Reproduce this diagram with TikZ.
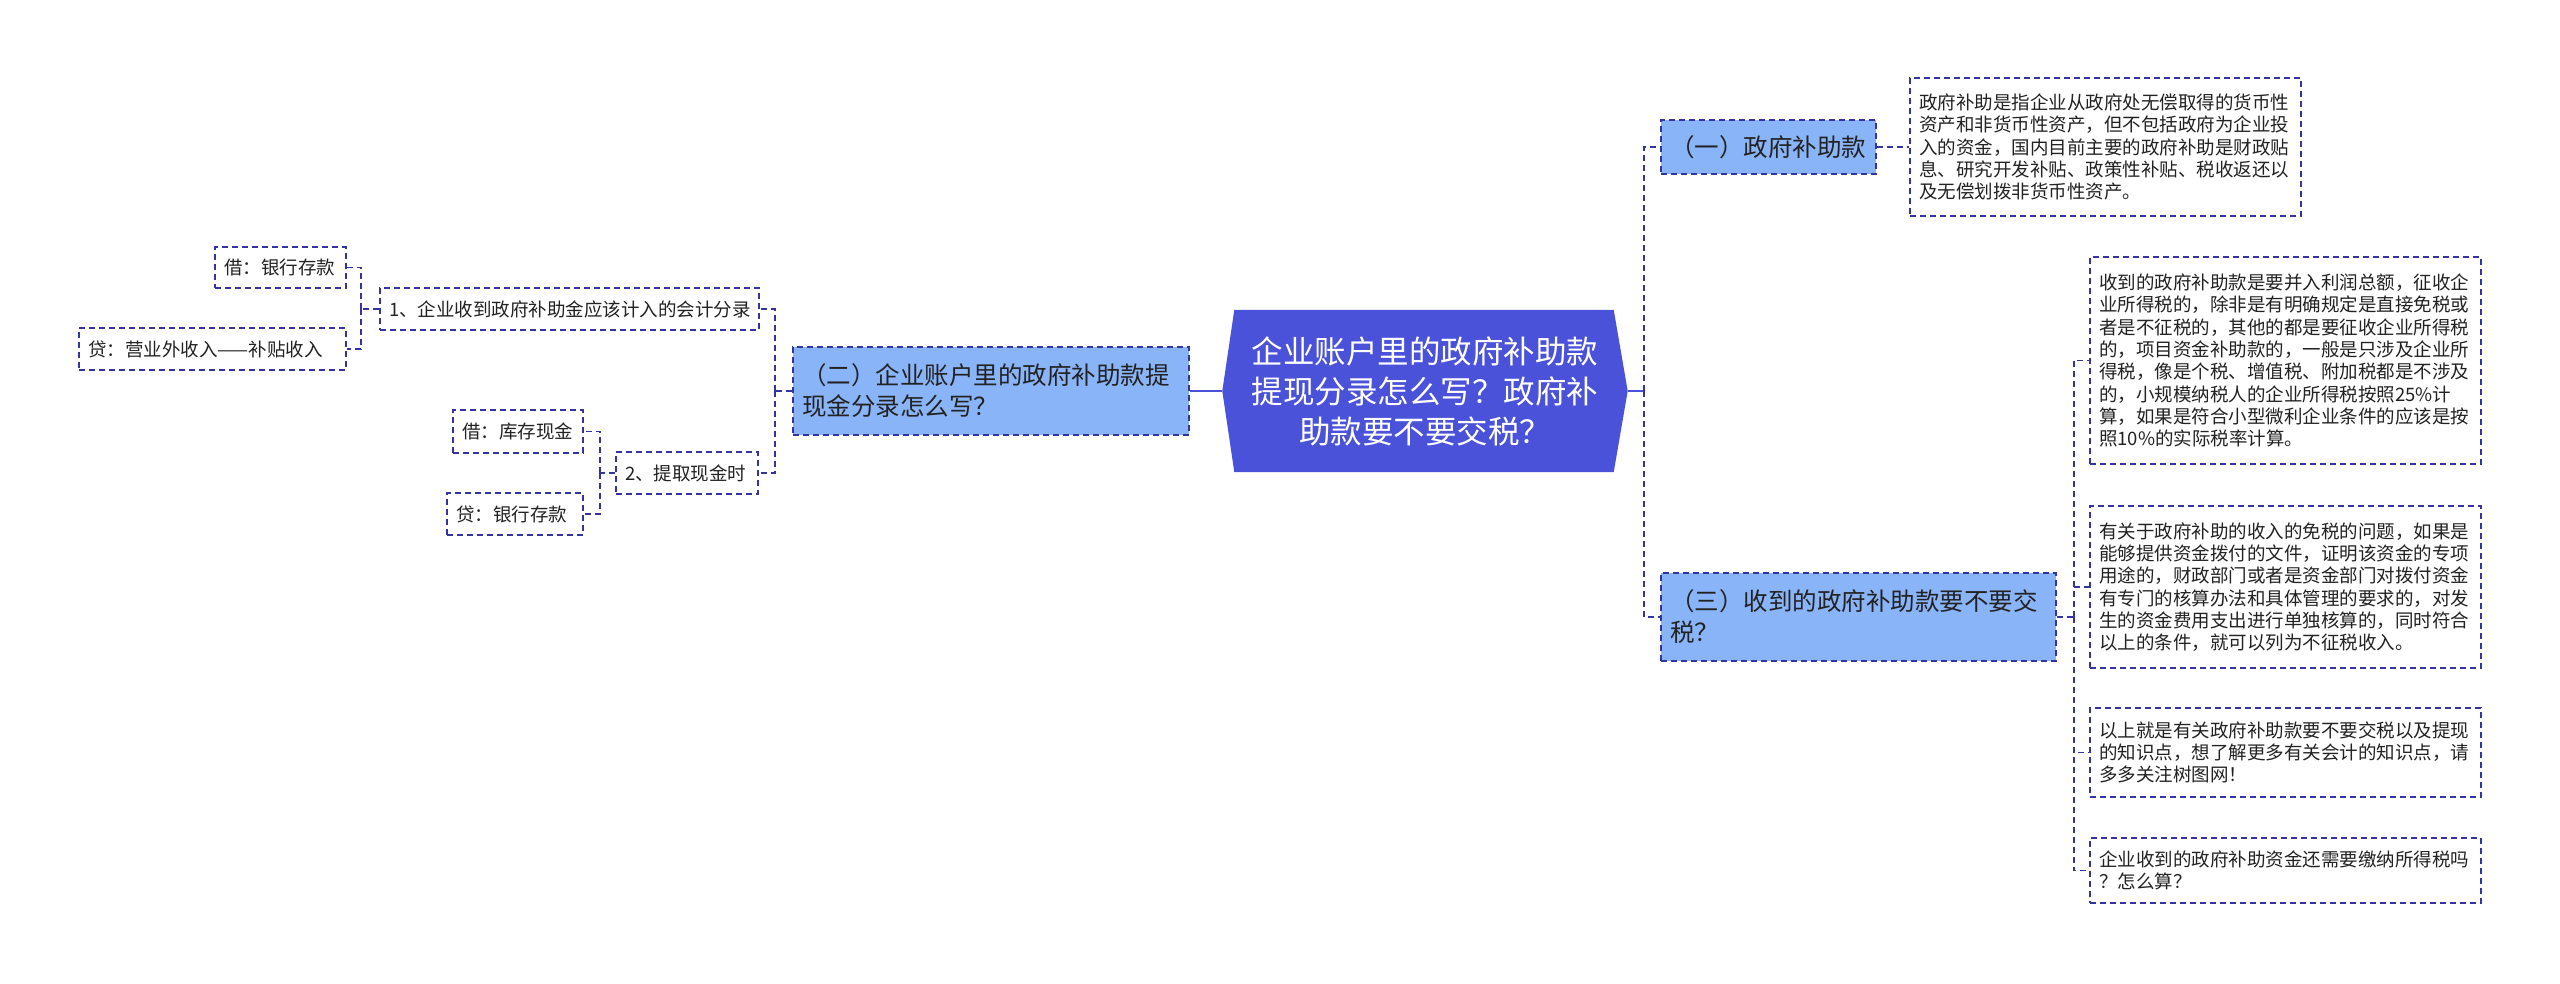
\documentclass[tikz,border=0pt]{standalone}
\usepackage{fontspec}
\setmainfont{Noto Sans CJK SC}
\usepackage{tikz}
\usetikzlibrary{backgrounds}
\definecolor{rootblue}{RGB}{74,82,217}
\definecolor{topicblue}{RGB}{138,180,248}
\definecolor{linkblue}{RGB}{52,52,160}
\definecolor{inkgray}{RGB}{34,34,34}
\tikzset{
  root/.style={
    text=white, align=center, inner sep=0pt,
    minimum width=405pt, minimum height=162pt,
    font=\fontsize{31.5}{40}\selectfont
  },
  box/.style={
    draw=linkblue, line width=1.6pt, dash pattern=on 6pt off 4pt,
    text=inkgray, align=left, inner xsep=9pt, inner ysep=0pt
  },
  topic/.style={box, fill=topicblue, font=\fontsize{24.5}{31}\selectfont},
  leaf/.style={box, font=\fontsize{18.5}{22.3}\selectfont},
  boxsize/.style 2 args={text width=#1, minimum height=#2},
  link/.style={draw=linkblue, line width=1.6pt, dash pattern=on 6pt off 4pt},
  rootlink/.style={draw=rootblue, line width=2pt}
}

\begin{document}
\begin{tikzpicture}[x=1pt, y=-1pt]
  \useasboundingbox (0,0) rectangle (2560,984);

  % central topic
  \node[root] (root) at (1425,391)
    {企业账户里的政府补助款\\提现分录怎么写？政府补\\助款要不要交税？};
  \begin{scope}[on background layer]
    \fill[white] (0,0) rectangle (2560,984);
    \fill[rootblue] ([xshift=12]root.north west) -- ([xshift=-14]root.north east)
      -- (root.east) -- ([xshift=-14]root.south east)
      -- ([xshift=12]root.south west) -- (root.west) -- cycle;
  \end{scope}

  % right side
  \node[topic, boxsize={197pt}{54pt}] (n1) at (1768.5,147) {（一）政府补助款};
  \node[topic, boxsize={377pt}{88pt}] (n3) at (1858.5,617)
    {（三）收到的政府补助款要不要交\\税？};

  \node[leaf, boxsize={373pt}{138pt}] (d1) at (2105.5,147)
    {政府补助是指企业从政府处无偿取得的货币性\\资产和非货币性资产，但不包括政府为企业投\\入的资金，国内目前主要的政府补助是财政贴\\息、研究开发补贴、政策性补贴、税收返还以\\及无偿划拨非货币性资产。};
  \node[leaf, boxsize={373pt}{207pt}] (d2) at (2285.5,360.5)
    {收到的政府补助款是要并入利润总额，征收企\\业所得税的，除非是有明确规定是直接免税或\\者是不征税的，其他的都是要征收企业所得税\\的，项目资金补助款的，一般是只涉及企业所\\得税，像是个税、增值税、附加税都是不涉及\\的，小规模纳税人的企业所得税按照25\%计\\算，如果是符合小型微利企业条件的应该是按\\照10\%的实际税率计算。};
  \node[leaf, boxsize={373pt}{162pt}] (d3) at (2285.5,587)
    {有关于政府补助的收入的免税的问题，如果是\\能够提供资金拨付的文件，证明该资金的专项\\用途的，财政部门或者是资金部门对拨付资金\\有专门的核算办法和具体管理的要求的，对发\\生的资金费用支出进行单独核算的，同时符合\\以上的条件，就可以列为不征税收入。};
  \node[leaf, boxsize={373pt}{89pt}] (d4) at (2285.5,752.5)
    {以上就是有关政府补助款要不要交税以及提现\\的知识点，想了解更多有关会计的知识点，请\\多多关注树图网！};
  \node[leaf, boxsize={373pt}{65pt}] (d5) at (2285.5,870.5)
    {企业收到的政府补助资金还需要缴纳所得税吗\\？怎么算？};

  \draw[rootlink] (root.east) -- ++(16,0) coordinate (rtrunk);
  \draw[link] (rtrunk) |- (n1.west);
  \draw[link] (rtrunk) |- (n3.west);
  \draw[link] (n1.east) -- (d1.west);
  \draw[link] (n3.east) -- ++(17,0) coordinate (r3trunk);
  \foreach \d in {d2,d3,d4,d5}
    \draw[link] (r3trunk) |- (\d.west);

  % left side
  \node[topic, boxsize={378pt}{88pt}] (n2) at (991,391)
    {（二）企业账户里的政府补助款提\\现金分录怎么写？};
  \node[leaf, boxsize={361pt}{42pt}] (s1) at (569.5,309)
    {1、企业收到政府补助金应该计入的会计分录};
  \node[leaf, boxsize={124pt}{42pt}] (s2) at (687,473) {2、提取现金时};
  \node[leaf, boxsize={113pt}{41pt}] (l1) at (280.5,267.5) {借：银行存款};
  \node[leaf, boxsize={249pt}{42pt}] (l2) at (212.5,349) {贷：营业外收入——补贴收入};
  \node[leaf, boxsize={112pt}{43pt}] (l3) at (518,431.5) {借：库存现金};
  \node[leaf, boxsize={118pt}{42pt}] (l4) at (515,514) {贷：银行存款};

  \draw[rootlink] (root.west) -- (n2.east);
  \draw[link] (n2.west) -- ++(-17,0) coordinate (ltrunk);
  \draw[link] (ltrunk) |- (s1.east);
  \draw[link] (ltrunk) |- (s2.east);
  \draw[link] (s1.west) -- ++(-18,0) coordinate (s1trunk);
  \draw[link] (s1trunk) |- (l1.east);
  \draw[link] (s1trunk) |- (l2.east);
  \draw[link] (s2.west) -- ++(-15,0) coordinate (s2trunk);
  \draw[link] (s2trunk) |- (l3.east);
  \draw[link] (s2trunk) |- (l4.east);

\end{tikzpicture}
\end{document}
